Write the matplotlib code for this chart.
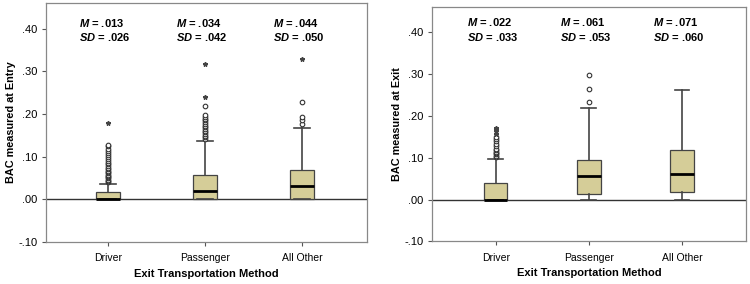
import numpy as np
import matplotlib
matplotlib.use("Agg")
import matplotlib.pyplot as plt

plt.rcParams['font.family'] = ['Liberation Sans', 'DejaVu Sans']
plt.rcParams['mathtext.fontset'] = 'custom'
plt.rcParams['mathtext.it'] = 'Liberation Sans:bold:italic'
plt.rcParams['mathtext.rm'] = 'Liberation Sans:bold'

categories = ["Driver", "Passenger", "All Other"]
ytick_vals = [-0.10, 0.00, 0.10, 0.20, 0.30, 0.40]
ytick_labels = ["-.10", ".00", ".10", ".20", ".30", ".40"]

# BAC at entry: box stats (whislo, q1, med, q3, whishi)
entry_stats = [
    [0.0, 0.0, 0.0, 0.016, 0.037],
    [0.0, 0.0, 0.0195, 0.056, 0.137],
    [0.0, 0.0, 0.032, 0.068, 0.168],
]
entry_circles = [
    [0.040, 0.043, 0.046, 0.049, 0.052, 0.055, 0.058, 0.061, 0.064, 0.067,
     0.070, 0.074, 0.078, 0.082, 0.086, 0.090, 0.094, 0.099, 0.104, 0.109,
     0.114, 0.119, 0.124, 0.128],
    [0.141, 0.145, 0.149, 0.153, 0.157, 0.161, 0.165, 0.169, 0.173, 0.177,
     0.181, 0.185, 0.189, 0.193, 0.197, 0.218],
    [0.177, 0.186, 0.194, 0.228],
]
entry_stars = [[0.178], [0.241, 0.317], [0.330]]
entry_m = [".013", ".034", ".044"]
entry_sd = [".026", ".042", ".050"]

# BAC at exit
exit_stats = [
    [0.0, 0.0, 0.0, 0.039, 0.098],
    [0.0, 0.0136, 0.0557, 0.095, 0.218],
    [0.0, 0.018, 0.0605, 0.118, 0.261],
]
exit_circles = [
    [0.102, 0.105, 0.108, 0.111, 0.114, 0.118, 0.122, 0.127, 0.133, 0.139,
     0.145, 0.150],
    [0.233, 0.265, 0.298],
    [],
]
exit_stars = [[0.157, 0.163, 0.168, 0.172], [], []]
exit_m = [".022", ".061", ".071"]
exit_sd = [".033", ".053", ".060"]

box_color = '#d5cd98'


def draw_panel(ax, stats, circles, stars, means, sds, ylabel, xlim, text_y):
    bxp_stats = []
    for s in stats:
        bxp_stats.append(dict(whislo=s[0], q1=s[1], med=s[2], q3=s[3], whishi=s[4], fliers=[]))
    pos = np.arange(1, len(categories) + 1)
    ax.bxp(bxp_stats, positions=pos, widths=0.25, capwidths=0.16, patch_artist=True,
           showfliers=False,
           boxprops=dict(facecolor=box_color, edgecolor='#444444', linewidth=0.9),
           medianprops=dict(color='black', linewidth=2.0),
           whiskerprops=dict(color='#444444', linewidth=1.2),
           capprops=dict(color='#444444', linewidth=1.2), zorder=3)
    for i in range(len(categories)):
        if circles[i]:
            ax.plot([pos[i]] * len(circles[i]), circles[i], 'o', ms=3.3, mfc='white',
                    mec='#333333', mew=0.8, zorder=4)
        if stars[i]:
            ax.plot([pos[i]] * len(stars[i]), stars[i], '*', ms=3.3, color='#444444', zorder=4)
        ax.text(pos[i] - 0.03, text_y, "$M$ = " + means[i] + "\n$SD$ = " + sds[i],
                ha='center', va='center', fontsize=8, fontweight='bold',
                multialignment='left', linespacing=1.25)
    ax.axhline(0, color='#333333', linewidth=1.0, zorder=2)
    ax.set_ylim(-0.10, 0.46)
    ax.set_xlim(*xlim)
    ax.set_yticks(ytick_vals)
    ax.set_yticklabels(ytick_labels, fontsize=8)
    ax.set_xticks(pos)
    ax.set_xticklabels(categories, fontsize=7.5)
    ax.tick_params(axis='both', length=3, width=0.8, color='#555555', pad=3)
    ax.tick_params(axis='x', pad=5)
    for sp in ax.spines.values():
        sp.set_color('#888888')
        sp.set_linewidth(0.9)
    ax.set_ylabel(ylabel, fontsize=7.8, fontweight='bold', labelpad=2)
    ax.set_xlabel("Exit Transportation Method", fontsize=8, fontweight='bold', labelpad=4)


fig = plt.figure(figsize=(7.5, 2.84), dpi=100)
ax1 = fig.add_axes([0.0613, 0.148, 0.4277, 0.841])
ax2 = fig.add_axes([0.576, 0.150, 0.419, 0.825])

draw_panel(ax1, entry_stats, entry_circles, entry_stars, entry_m, entry_sd,
           "BAC measured at Entry", (0.36, 3.67), 0.397)
draw_panel(ax2, exit_stats, exit_circles, exit_stars, exit_m, exit_sd,
           "BAC measured at Exit", (0.315, 3.69), 0.407)

fig.savefig("out.png", dpi=100)
